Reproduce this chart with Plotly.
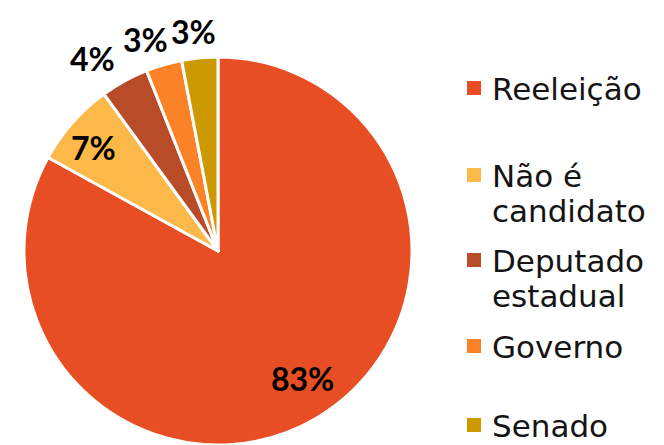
import math
import plotly.graph_objects as go

labels = ["Reeleição", "Não é<br>candidato", "Deputado<br>estadual", "Governo", "Senado"]
values = [83, 7, 4, 3, 3]
colors = ["#E84E24", "#FDB84A", "#B84B28", "#FC8227", "#CC9900"]
label_outside = [False, False, True, True, True]

W, H = 664, 445
cx, cy, R = 218, 251, 194  # pie centre / radius in pixels

fig = go.Figure(go.Pie(
    labels=labels,
    values=values,
    sort=False,
    direction="clockwise",
    rotation=0,
    marker=dict(colors=colors, line=dict(color="white", width=3)),
    textinfo="none",
    hoverinfo="label+percent",
    domain=dict(x=[(cx - R) / W, (cx + R) / W], y=[1 - (cy + R) / H, 1 - (cy - R) / H]),
    showlegend=False,
))

annotations = []
shapes = []
total = sum(values)
cum = 0
for v, out in zip(values, label_outside):
    mid = (cum + v / 2) / total * 2 * math.pi
    cum += v
    s, c = math.sin(mid), math.cos(mid)
    if out:
        rr = R + 12
        px = cx + rr * s + s * 54
        py = cy - rr * c - c * 14
    else:
        rr = R * 0.78
        px = cx + rr * s * 1.1
        py = cy - rr * c - 3
    annotations.append(dict(
        x=px / W, y=1 - py / H, xref="paper", yref="paper",
        text="<b>%d%%</b>" % round(v / total * 100),
        showarrow=False, xanchor="center", yanchor="middle",
        font=dict(family="Lato", size=32, color="black"),
    ))

# legend drawn as text + squares
leg_y = [88, 175, 260, 346, 425]
line_gap = 35
for lab, col, ly in zip(labels, colors, leg_y):
    shapes.append(dict(type="rect", xref="paper", yref="paper",
                       x0=467 / W, x1=481 / W, y0=1 - (ly - 7) / H, y1=1 - (ly + 7) / H,
                       fillcolor=col, line=dict(width=0)))
    for i, part in enumerate(lab.split("<br>")):
        annotations.append(dict(
            x=490 / W, y=1 - (ly + i * line_gap + 1) / H, xref="paper", yref="paper",
            text=part, showarrow=False, xanchor="left", yanchor="middle",
            font=dict(family="DejaVu Sans", size=31, color="#141414"),
        ))

fig.update_layout(
    width=W, height=H,
    margin=dict(l=0, r=0, t=0, b=0),
    paper_bgcolor="white",
    plot_bgcolor="white",
    annotations=annotations,
    shapes=shapes,
)

fig.write_html("out.html", config={"displayModeBar": False},
               post_script="document.body.style.margin='0px';")
